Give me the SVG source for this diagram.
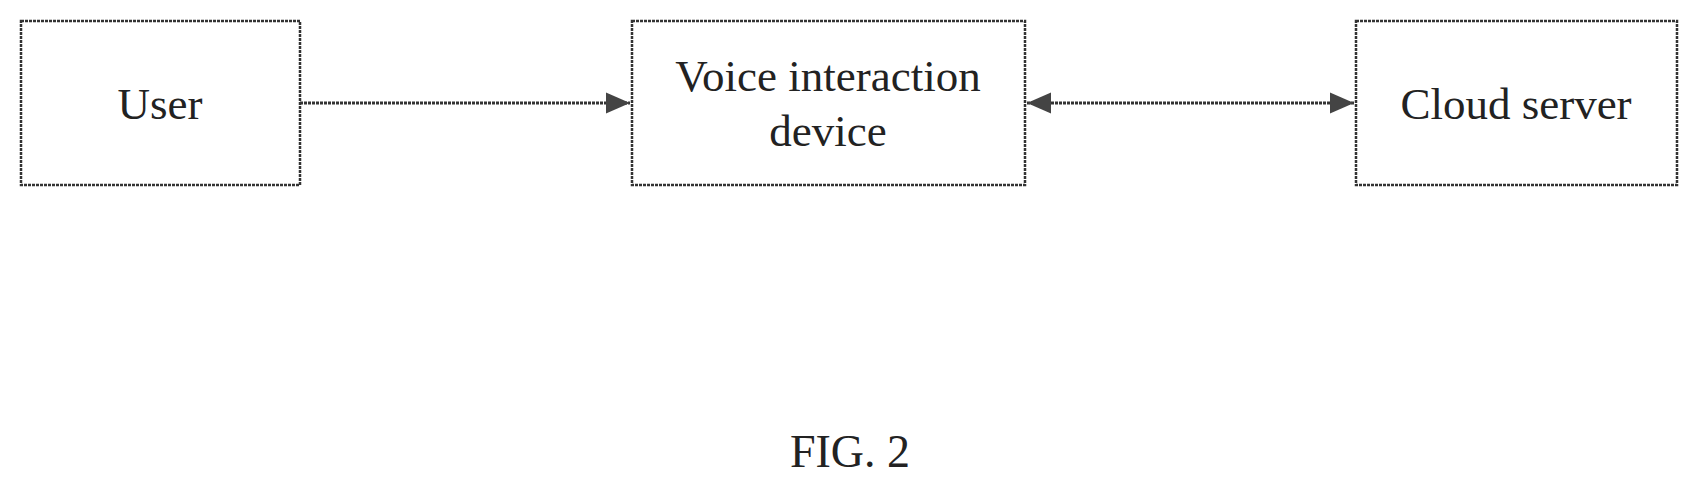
<svg xmlns="http://www.w3.org/2000/svg" width="1698" height="487" viewBox="0 0 1698 487">
<style>
.box{fill:#fff;stroke:#333;stroke-width:2.5;stroke-dasharray:3 1}
.t{font-family:"Liberation Serif",serif;font-size:45px;fill:#222;text-anchor:middle}
.c{stroke:#333;stroke-width:3;stroke-dasharray:3 1;fill:none}
</style>
<defs>
<marker id="a" markerWidth="8" markerHeight="8" refX="8" refY="4" orient="auto-start-reverse" markerUnits="strokeWidth"><path d="M0,0.5 L8,4 L0,7.5 Z" fill="#444"/></marker>
</defs>
<rect width="1698" height="487" fill="#fff"/>
<g id="user"><rect class="box" x="21" y="21" width="279" height="164"/><text class="t" x="160" y="119">User</text></g>
<g id="device"><rect class="box" x="632" y="21" width="393" height="164"/><text class="t" x="828" y="91">Voice interaction</text><text class="t" x="828" y="146">device</text></g>
<g id="cloud"><rect class="box" x="1356" y="21" width="321" height="164"/><text class="t" x="1516" y="119">Cloud server</text></g>
<g id="connectors">
<line class="c" x1="300" y1="103" x2="630" y2="103" marker-end="url(#a)"/>
<line class="c" x1="1027" y1="103" x2="1354" y2="103" marker-start="url(#a)" marker-end="url(#a)"/>
</g>
<text class="t" x="850" y="467" style="font-size:46px">FIG. 2</text>
</svg>
